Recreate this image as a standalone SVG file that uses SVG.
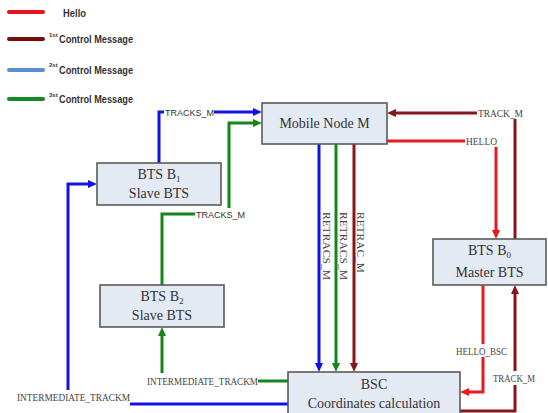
<svg xmlns="http://www.w3.org/2000/svg" width="548" height="413" viewBox="0 0 548 413">
<style>
.box{fill:#e4eaf4;stroke:#5a5a5a;stroke-width:1.6}
.nt{font-family:"Liberation Serif","Times New Roman",serif;font-size:14px;fill:#333;text-anchor:middle}
.lg{font-family:"Liberation Sans",Arial,sans-serif;font-weight:bold;font-size:11px;fill:#333}
.sup{font-family:"Liberation Sans",Arial,sans-serif;font-weight:bold;font-size:6px;fill:#333}
.cl{font-family:"Liberation Serif","Times New Roman",serif;font-size:9.5px;fill:#444}
.cs{font-family:"Liberation Sans",Arial,sans-serif;font-size:9px;fill:#333}
.c{fill:none;stroke-width:3}
.blue{stroke:#1212e6}
.green{stroke:#16861a}
.dred{stroke:#86161a}
.red{stroke:#e81a1e}
.leg{stroke-width:4;stroke-linecap:round}
</style>
<defs>
<marker id="ab" viewBox="0 0 9 8" refX="5" refY="4" markerWidth="9" markerHeight="8" markerUnits="userSpaceOnUse" orient="auto"><path d="M0,0 L9,4 L0,8 z" fill="#1212e6"/></marker>
<marker id="ag" viewBox="0 0 9 8" refX="5" refY="4" markerWidth="9" markerHeight="8" markerUnits="userSpaceOnUse" orient="auto"><path d="M0,0 L9,4 L0,8 z" fill="#16861a"/></marker>
<marker id="ad" viewBox="0 0 9 8" refX="5" refY="4" markerWidth="9" markerHeight="8" markerUnits="userSpaceOnUse" orient="auto"><path d="M0,0 L9,4 L0,8 z" fill="#86161a"/></marker>
<marker id="ar" viewBox="0 0 9 8" refX="5" refY="4" markerWidth="9" markerHeight="8" markerUnits="userSpaceOnUse" orient="auto"><path d="M0,0 L9,4 L0,8 z" fill="#e81a1e"/></marker>
</defs>

<g id="legend">
<line x1="9" y1="12" x2="43" y2="12" class="leg" stroke="#e8141c"/>
<line x1="9" y1="39" x2="43" y2="39" class="leg" stroke="#7a0c0c"/>
<line x1="9" y1="70" x2="43" y2="70" class="leg" stroke="#5a8ed0"/>
<line x1="9" y1="99" x2="43" y2="99" class="leg" stroke="#138a22"/>
<text x="63" y="17" class="lg" textLength="23" lengthAdjust="spacingAndGlyphs">Hello</text>
<text x="49" y="37" class="sup">1st</text>
<text x="59" y="43" class="lg" textLength="74" lengthAdjust="spacingAndGlyphs">Control Message</text>
<text x="49" y="67" class="sup">2st</text>
<text x="59" y="74" class="lg" textLength="74" lengthAdjust="spacingAndGlyphs">Control Message</text>
<text x="49" y="97" class="sup">3st</text>
<text x="59" y="103" class="lg" textLength="74" lengthAdjust="spacingAndGlyphs">Control Message</text>
</g>

<g id="connectors">
<!-- blue TRACKS_M B1 -> M -->
<path class="c blue" d="M159,163 V112 H164"/>
<path class="c blue" d="M214,112 H258" marker-end="url(#ab)"/>
<text x="165" y="115.5" class="cs" textLength="49" lengthAdjust="spacingAndGlyphs">TRACKS_M</text>
<!-- green TRACKS_M B2 -> M -->
<path class="c green" d="M162,285 V214 H195"/>
<path class="c green" d="M229,208 V123 H258" marker-end="url(#ag)"/>
<text x="196" y="217.5" class="cs" textLength="49" lengthAdjust="spacingAndGlyphs">TRACKS_M</text>
<!-- M -> BSC -->
<path class="c blue" d="M319,144 V368" marker-end="url(#ab)"/>
<path class="c green" d="M336,144 V368" marker-end="url(#ag)"/>
<path class="c dred" d="M354,144 V368" marker-end="url(#ad)"/>
<text transform="translate(323,212) rotate(90)" class="cl" font-size="10" textLength="68" lengthAdjust="spacingAndGlyphs">RETRACS_M</text>
<text transform="translate(340,212) rotate(90)" class="cl" font-size="10" textLength="68" lengthAdjust="spacingAndGlyphs">RETRACS_M</text>
<text transform="translate(357,212) rotate(90)" class="cl" font-size="10" textLength="61" lengthAdjust="spacingAndGlyphs">RETRAC_M</text>
<!-- dark red TRACK_M B0 -> M -->
<path class="c dred" d="M515,239 V119"/>
<path class="c dred" d="M477,113 H391" marker-end="url(#ad)"/>
<text x="478" y="116.5" class="cl" textLength="45" lengthAdjust="spacingAndGlyphs">TRACK_M</text>
<!-- red HELLO M -> B0 -->
<path class="c red" d="M387,141 H465"/>
<path class="c red" d="M496,147 V235" marker-end="url(#ar)"/>
<text x="466" y="144.5" class="cl" textLength="31" lengthAdjust="spacingAndGlyphs">HELLO</text>
<!-- red HELLO_BSC B0 -> BSC -->
<path class="c red" d="M483,285 V344"/>
<path class="c red" d="M483,357 V392 H464" marker-end="url(#ar)"/>
<text x="456" y="354.5" class="cl" textLength="51" lengthAdjust="spacingAndGlyphs">HELLO_BSC</text>
<!-- dark red TRACK_M BSC -> B0 -->
<path class="c dred" d="M460,411 H515 V385"/>
<path class="c dred" d="M515,371 V289" marker-end="url(#ad)"/>
<text x="493" y="381.5" class="cl" textLength="42" lengthAdjust="spacingAndGlyphs">TRACK_M</text>
<!-- blue INTERMEDIATE_TRACKM BSC -> B1 -->
<path class="c blue" d="M288,404 H130"/>
<path class="c blue" d="M68,390 V184 H93" marker-end="url(#ab)"/>
<text x="17" y="400.5" class="cl" textLength="113" lengthAdjust="spacingAndGlyphs">INTERMEDIATE_TRACKM</text>
<!-- green INTERMEDIATE_TRACKM BSC -> B2 -->
<path class="c green" d="M288,381 H258"/>
<path class="c green" d="M162,373 V331" marker-end="url(#ag)"/>
<text x="147" y="384.5" class="cl" textLength="111" lengthAdjust="spacingAndGlyphs">INTERMEDIATE_TRACKM</text>
</g>

<g id="node-mobile">
<rect class="box" x="262" y="103" width="125" height="41"/>
<text x="324.5" y="128" class="nt">Mobile Node M</text>
</g>

<g id="node-bts1">
<rect class="box" x="97" y="163" width="124" height="42"/>
<text x="159" y="179" class="nt">BTS B<tspan font-size="9" dy="3">1</tspan></text>
<text x="159" y="198" class="nt">Slave BTS</text>
</g>

<g id="node-bts2">
<rect class="box" x="100" y="285" width="124" height="42"/>
<text x="162" y="301" class="nt">BTS B<tspan font-size="9" dy="3">2</tspan></text>
<text x="162" y="320" class="nt">Slave BTS</text>
</g>

<g id="node-bts0">
<rect class="box" x="433" y="239" width="113" height="46"/>
<text x="489.5" y="255" class="nt">BTS B<tspan font-size="9" dy="3">0</tspan></text>
<text x="489.5" y="277" class="nt">Master BTS</text>
</g>

<g id="node-bsc">
<rect class="box" x="288" y="372" width="172" height="48"/>
<text x="374" y="389" class="nt">BSC</text>
<text x="374" y="408" class="nt">Coordinates calculation</text>
</g>
</svg>
